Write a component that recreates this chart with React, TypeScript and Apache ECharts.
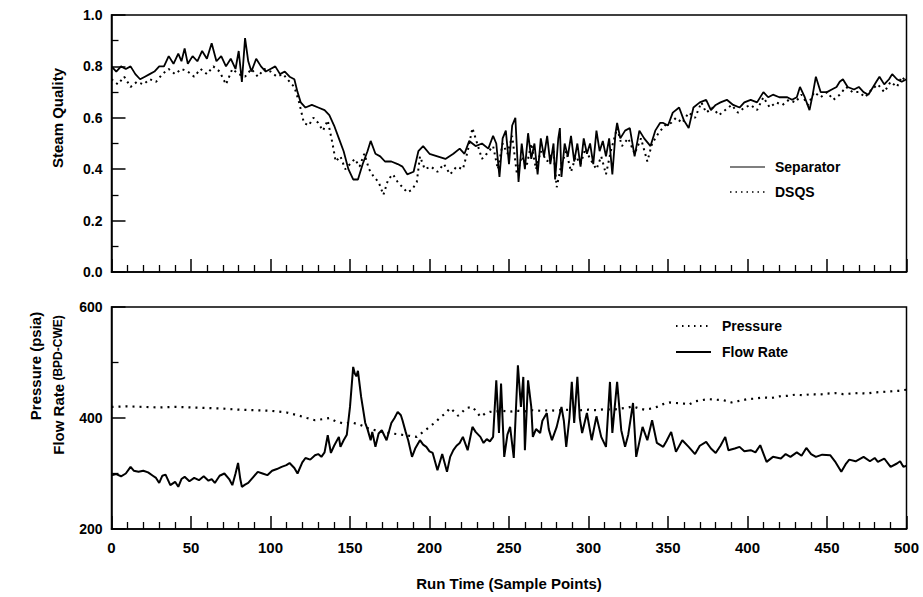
import React, { useEffect, useRef } from "react";
import * as echarts from "echarts";

// Top panel: steam quality
const SEPARATOR: [number, number][] = [
  [0,0.80],[3,0.78],[6,0.80],[9,0.79],[12,0.80],[15,0.77],[18,0.75],[21,0.76],[24,0.77],[27,0.78],[30,0.80],[33,0.80],[36,0.84],[39,0.81],[42,0.85],[44,0.82],[46,0.87],[48,0.81],[51,0.84],[54,0.82],[57,0.86],[60,0.83],[63,0.89],[66,0.82],[69,0.84],[72,0.80],[75,0.83],[78,0.79],[80,0.86],[82,0.74],[84,0.91],[86,0.82],[88,0.78],[91,0.83],[94,0.80],[97,0.78],[100,0.79],[103,0.80],[106,0.77],[109,0.78],[112,0.76],[115,0.75],[117,0.70],[119,0.66],[122,0.64],[126,0.65],[130,0.64],[134,0.63],[137,0.61],[140,0.57],[143,0.52],[146,0.47],[149,0.40],[152,0.36],[155,0.36],[158,0.42],[161,0.47],[163,0.51],[166,0.46],[169,0.45],[172,0.43],[176,0.43],[180,0.42],[183,0.41],[186,0.38],[190,0.39],[193,0.47],[196,0.49],[200,0.46],[205,0.45],[210,0.44],[215,0.46],[219,0.48],[222,0.46],[225,0.51],[229,0.49],[233,0.50],[237,0.48],[240,0.53],[242,0.50],[244,0.37],[246,0.52],[248,0.55],[250,0.42],[252,0.57],[254,0.60],[256,0.35],[258,0.50],[260,0.40],[262,0.54],[264,0.44],[266,0.50],[268,0.38],[270,0.52],[272,0.45],[274,0.53],[276,0.42],[278,0.50],[279,0.36],[281,0.52],[282,0.56],[283,0.37],[285,0.50],[287,0.45],[289,0.53],[291,0.43],[293,0.50],[295,0.41],[297,0.52],[299,0.46],[301,0.50],[303,0.42],[305,0.55],[307,0.47],[309,0.51],[311,0.45],[313,0.52],[315,0.38],[317,0.54],[318,0.58],[320,0.52],[323,0.55],[326,0.56],[329,0.45],[332,0.55],[335,0.52],[339,0.49],[342,0.55],[345,0.58],[347,0.58],[350,0.57],[353,0.62],[357,0.64],[360,0.59],[363,0.56],[366,0.64],[370,0.66],[374,0.67],[377,0.63],[380,0.65],[383,0.66],[387,0.67],[391,0.65],[395,0.64],[398,0.66],[402,0.67],[406,0.66],[410,0.70],[413,0.68],[416,0.69],[420,0.68],[425,0.68],[428,0.67],[431,0.68],[433,0.72],[436,0.68],[439,0.63],[441,0.69],[443,0.76],[446,0.70],[450,0.70],[453,0.71],[456,0.72],[458,0.74],[460,0.75],[463,0.72],[467,0.71],[470,0.72],[473,0.70],[476,0.69],[479,0.72],[481,0.74],[483,0.76],[486,0.73],[489,0.75],[491,0.77],[494,0.75],[497,0.74],[500,0.75]
];

const DSQS: [number, number][] = [
  [0,0.75],[4,0.73],[8,0.76],[12,0.72],[16,0.74],[20,0.73],[24,0.75],[28,0.74],[32,0.77],[36,0.79],[40,0.77],[44,0.79],[48,0.78],[52,0.76],[56,0.79],[60,0.77],[64,0.80],[68,0.78],[72,0.73],[76,0.79],[80,0.77],[84,0.76],[88,0.79],[92,0.76],[96,0.79],[100,0.78],[104,0.76],[108,0.77],[112,0.74],[115,0.72],[118,0.66],[121,0.58],[124,0.57],[127,0.60],[130,0.58],[133,0.55],[136,0.59],[139,0.50],[141,0.43],[144,0.45],[147,0.40],[150,0.42],[153,0.44],[156,0.41],[159,0.46],[162,0.40],[165,0.37],[168,0.35],[171,0.30],[174,0.36],[177,0.38],[180,0.35],[183,0.33],[186,0.31],[189,0.32],[192,0.35],[194,0.45],[197,0.40],[201,0.41],[205,0.39],[209,0.42],[213,0.38],[217,0.41],[221,0.40],[224,0.47],[227,0.56],[230,0.50],[233,0.44],[236,0.46],[240,0.49],[243,0.40],[246,0.50],[249,0.46],[252,0.53],[255,0.38],[258,0.45],[261,0.41],[264,0.50],[267,0.40],[270,0.47],[274,0.43],[278,0.47],[280,0.33],[283,0.42],[286,0.47],[289,0.39],[292,0.45],[295,0.42],[298,0.48],[301,0.44],[305,0.40],[308,0.45],[311,0.38],[314,0.47],[318,0.56],[321,0.49],[325,0.52],[329,0.46],[333,0.52],[337,0.43],[340,0.50],[344,0.54],[348,0.57],[352,0.58],[355,0.60],[359,0.58],[363,0.62],[367,0.60],[371,0.66],[374,0.62],[378,0.64],[382,0.61],[386,0.63],[390,0.65],[394,0.62],[398,0.64],[402,0.65],[406,0.63],[410,0.68],[414,0.64],[418,0.66],[422,0.65],[426,0.67],[430,0.66],[434,0.69],[438,0.65],[442,0.70],[446,0.68],[450,0.70],[454,0.67],[458,0.69],[462,0.72],[466,0.70],[470,0.70],[474,0.68],[478,0.71],[482,0.73],[486,0.70],[490,0.74],[494,0.72],[497,0.76],[500,0.74]
];

// Bottom panel: pressure (psia) and flow rate (BPD-CWE)
const PRESSURE: [number, number][] = [
  [0,420],[10,421],[20,420],[30,419],[40,420],[50,419],[60,418],[70,417],[80,415],[90,414],[100,413],[110,410],[117,405],[123,400],[128,396],[133,398],[137,400],[141,394],[146,390],[151,392],[156,388],[161,382],[167,377],[172,374],[177,372],[182,370],[187,368],[192,366],[196,375],[200,384],[204,393],[207,402],[210,408],[213,418],[216,410],[218,404],[221,412],[223,418],[227,420],[230,410],[232,402],[235,408],[238,411],[242,412],[246,413],[250,411],[255,413],[260,412],[265,414],[270,413],[275,414],[280,413],[285,415],[290,414],[295,414],[300,415],[305,414],[310,416],[315,415],[320,417],[325,419],[328,421],[331,418],[335,415],[339,417],[343,420],[347,425],[351,428],[355,427],[360,426],[363,424],[367,430],[371,432],[375,434],[380,433],[385,432],[390,428],[395,431],[400,434],[405,435],[410,437],[415,436],[420,439],[425,440],[430,442],[435,441],[440,443],[445,442],[450,444],[455,445],[460,443],[465,444],[470,445],[475,444],[480,446],[485,447],[490,448],[495,449],[500,451]
];

const FLOW_RATE: [number, number][] = [
  [0,297],[3,299],[6,295],[9,300],[12,312],[14,305],[17,303],[20,305],[23,302],[26,296],[28,292],[30,283],[32,296],[34,298],[37,279],[40,285],[42,276],[44,290],[46,294],[49,286],[52,292],[55,288],[58,295],[61,287],[63,290],[65,283],[68,296],[71,300],[74,290],[76,279],[78,300],[79.6,319],[81,290],[82,276],[84,280],[86,283],[89,293],[92,303],[95,300],[98,297],[101,305],[104,308],[107,312],[110,315],[112,319],[115,310],[117,300],[120,320],[122,328],[125,325],[128,333],[130,335],[132,330],[134,338],[136,369],[138,337],[140,350],[143,366],[144,348],[146,360],[148,370],[150,420],[152,492],[153,480],[154,475],[155,485],[157,438],[158,420],[159.6,391],[161,380],[163,360],[164,375],[166,348],[168,372],[170,378],[173,360],[176,391],[178,400],[180,411],[182,405],[183,396],[185,375],[186.6,360],[189,330],[191,345],[194,360],[196,352],[198,348],[200,340],[202,337],[205,306],[208,335],[211,303],[213,330],[215,342],[217,350],[219,355],[221,366],[224,342],[227,384],[229,375],[232,366],[234,355],[236,362],[238,358],[240,366],[242,468],[243.7,373],[245,462],[247,330],[249,370],[250.7,384],[253,328],[255.6,495],[257.5,420],[259,474],[260,342],[262,468],[264,420],[265,366],[267,380],[269.6,373],[271,395],[273.8,409],[275,380],[277,360],[280,384],[283,420],[284.5,395],[286,348],[288,400],[289.5,465],[291,391],[293,474],[294.5,400],[296,373],[299,409],[302,360],[305,403],[308,366],[311,348],[313.5,465],[315,373],[316.5,420],[318,465],[320.6,378],[323,348],[325,370],[328,427],[330,330],[334,384],[337,360],[340,396],[343,355],[347,348],[349,358],[352,375],[355,339],[359,360],[363,348],[367,335],[370,350],[374,357],[377,345],[380,337],[383,350],[386,366],[388,342],[392,345],[395,348],[398,340],[402,342],[405,338],[408,351],[412,321],[416,330],[421,327],[424,335],[427,330],[431,338],[434,332],[437,346],[440,335],[443,330],[447,334],[452,333],[455,322],[459,303],[462,318],[464,325],[468,322],[473,330],[477,322],[480,328],[482,321],[486,327],[490,312],[494,318],[496,322],[498,312],[500,314]
];

const X_MIN = 0, X_MAX = 500, X_STEP = 50;
const Q_MIN = 0, Q_MAX = 1, Q_STEP = 0.2;
const P_MIN = 200, P_MAX = 600, P_STEP = 200;

const FONT = "'Liberation Sans', Arial, Helvetica, sans-serif";
const NARROW = "'Liberation Sans Narrow', 'Liberation Sans', Arial, sans-serif";

function legendItem(x: number, y: number, label: string, width: number, dash: number[] | null, textX: number) {
  return [
    {
      type: "line",
      shape: { x1: x, y1: y, x2: x + 35, y2: y },
      style: { stroke: "#000", lineWidth: width, lineDash: dash || undefined },
    },
    {
      type: "text", x: textX, y,
      style: { text: label, fill: "#000", font: `bold 14px ${FONT}`, align: "left", verticalAlign: "middle" },
    },
  ];
}

export default function App() {
  const ref = useRef<HTMLDivElement>(null);
  useEffect(() => {
    document.body.style.margin = "0";
    const chart = echarts.init(ref.current!, null, { renderer: "svg" });
    const axisLine = { show: true, onZero: false, lineStyle: { color: "#000", width: 1.5 } };
    const xBase = (showLabels: boolean) => ({
      type: "value",
      min: X_MIN, max: X_MAX, interval: X_STEP,
      axisLine,
      axisTick: { show: true, inside: true, length: 13, lineStyle: { color: "#000", width: 1.5 } },
      minorTick: { show: true, splitNumber: 5, length: 7, lineStyle: { color: "#000", width: 1.3 } },
      splitLine: { show: false },
      axisLabel: {
        show: showLabels, color: "#000", fontSize: 15, fontFamily: NARROW, fontWeight: "bold", margin: 11,
      },
    });
    const option: any = {
      animation: false,
      backgroundColor: "#fff",
      grid: [
        { left: 111.5, top: 15, width: 795, height: 257, show: true, borderColor: "#000", borderWidth: 1.5, backgroundColor: "transparent" },
        { left: 111.5, top: 307, width: 795, height: 222, show: true, borderColor: "#000", borderWidth: 1.5, backgroundColor: "transparent" },
      ],
      xAxis: [
        { ...xBase(false), gridIndex: 0 },
        {
          ...xBase(true), gridIndex: 1,
          name: "Run Time (Sample Points)", nameLocation: "middle", nameGap: 47,
          nameTextStyle: { color: "#000", fontSize: 15, fontFamily: FONT, fontWeight: "bold" },
        },
      ],
      yAxis: [
        {
          type: "value", gridIndex: 0, min: Q_MIN, max: Q_MAX, interval: Q_STEP,
          axisLine,
          axisTick: { show: true, inside: true, length: 14, lineStyle: { color: "#000", width: 1.5 } },
          minorTick: { show: true, splitNumber: 2, length: 7, lineStyle: { color: "#000", width: 1.3 } },
          splitLine: { show: false },
          axisLabel: { color: "#000", fontSize: 14, fontFamily: FONT, fontWeight: "bold", margin: 9, formatter: (v: number) => v.toFixed(1) },
        },
        {
          type: "value", gridIndex: 1, min: P_MIN, max: P_MAX, interval: P_STEP,
          axisLine,
          axisTick: { show: true, inside: true, length: 14, lineStyle: { color: "#000", width: 1.5 } },
          minorTick: { show: true, splitNumber: 2, length: 7, lineStyle: { color: "#000", width: 1.3 } },
          splitLine: { show: false },
          axisLabel: { color: "#000", fontSize: 14, fontFamily: NARROW, fontWeight: "bold", margin: 9 },
        },
      ],
      graphic: [
        {
          type: "text", x: 57, y: 118, rotation: Math.PI / 2,
          style: { text: "Steam Quality", fill: "#000", font: `bold 15px ${FONT}`, align: "center", verticalAlign: "middle" },
        },
        {
          type: "text", x: 35, y: 366, rotation: Math.PI / 2,
          style: { text: "Pressure (psia)", fill: "#000", font: `bold 15px ${FONT}`, align: "center", verticalAlign: "middle" },
        },
        {
          type: "text", x: 58, y: 385, rotation: Math.PI / 2,
          style: {
            text: "{a|Flow Rate} {b|(BPD-CWE)}", align: "center", verticalAlign: "middle",
            rich: {
              a: { fill: "#000", font: `bold 15px ${FONT}` },
              b: { fill: "#000", font: `bold 12px ${FONT}` },
            },
          },
        },
        ...legendItem(730, 167, "Separator", 1.2, null, 775),
        ...legendItem(730, 192, "DSQS", 1.6, [1.5, 4], 775),
        ...legendItem(676, 326, "Pressure", 1.8, [1.5, 4.5], 722),
        ...legendItem(676, 352, "Flow Rate", 2.2, null, 722),
      ],
      series: [
        {
          name: "DSQS", type: "line", xAxisIndex: 0, yAxisIndex: 0, data: DSQS, symbol: "none",
          lineStyle: { color: "#000", width: 2, type: [2, 4] }, itemStyle: { color: "#000" },
        },
        {
          name: "Separator", type: "line", xAxisIndex: 0, yAxisIndex: 0, data: SEPARATOR, symbol: "none",
          lineStyle: { color: "#000", width: 1.8 }, itemStyle: { color: "#000" },
        },
        {
          name: "Pressure", type: "line", xAxisIndex: 1, yAxisIndex: 1, data: PRESSURE, symbol: "none",
          lineStyle: { color: "#000", width: 2.2, type: [2, 5] }, itemStyle: { color: "#000" },
        },
        {
          name: "Flow Rate", type: "line", xAxisIndex: 1, yAxisIndex: 1, data: FLOW_RATE, symbol: "none",
          lineStyle: { color: "#000", width: 2 }, itemStyle: { color: "#000" },
        },
      ],
    };
    chart.setOption(option);
    return () => chart.dispose();
  }, []);
  return <div ref={ref} style={{ width: 923, height: 597 }} />;
}
